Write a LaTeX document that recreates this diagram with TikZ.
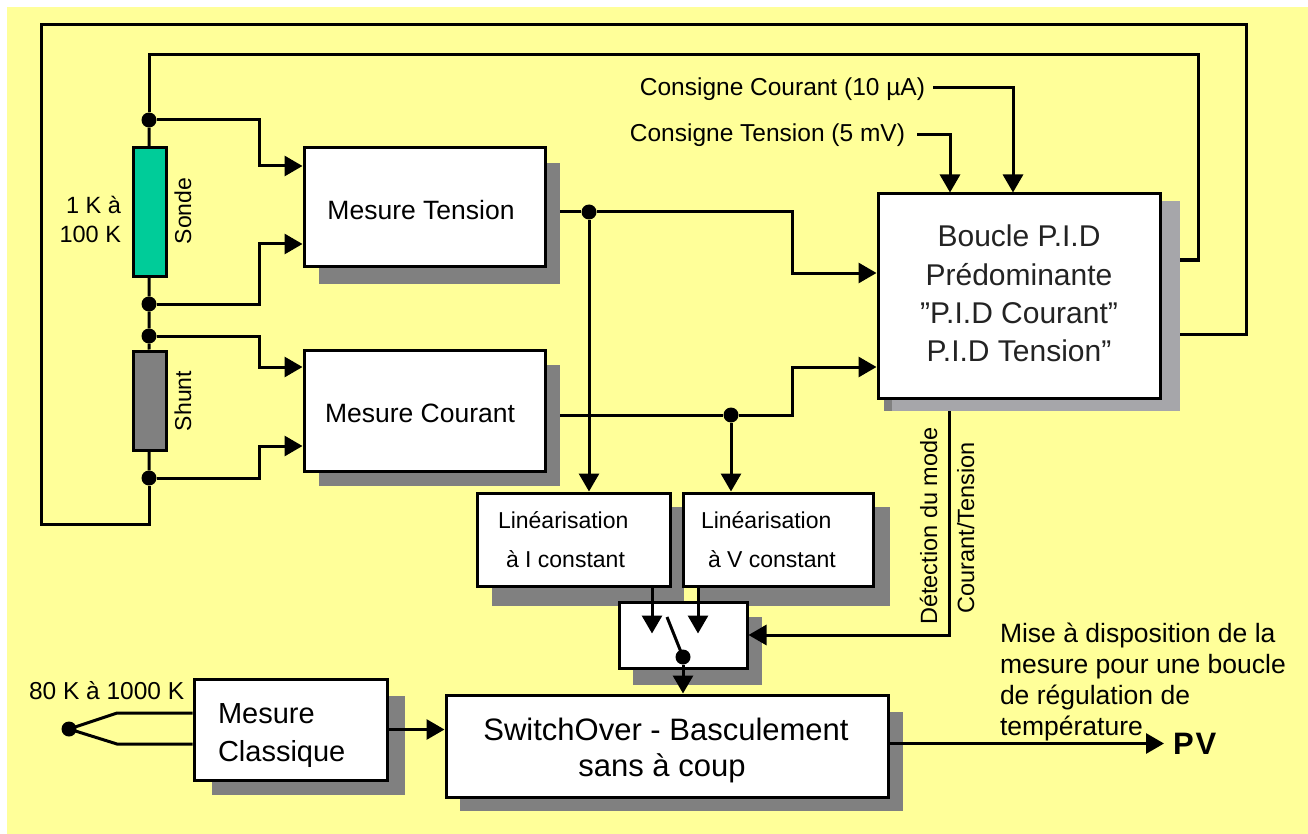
\documentclass[tikz,border=0pt]{standalone}
\usepackage{fontspec}
\setmainfont{Liberation Sans}
\usepackage{tikz}
\usetikzlibrary{arrows.meta}
\pgfdeclarelayer{bglayer}
\pgfdeclarelayer{shlayer}
\pgfdeclarelayer{wrlayer}
\pgfsetlayers{bglayer,shlayer,wrlayer,main}
\definecolor{bgyellow}{RGB}{255,255,153}
\definecolor{sondegreen}{RGB}{0,204,153}
\definecolor{shadowgray}{RGB}{128,128,128}
\definecolor{pidshadow}{RGB}{166,166,170}
\definecolor{pidtext}{RGB}{35,35,35}
\newcommand{\myfz}[1]{\fontsize{#1}{#1}\selectfont}
\tikzset{
  box/.style={rectangle, draw=black, line width=3pt, fill=white, inner sep=0pt},
  shbox/.style={rectangle, fill=shadowgray, inner sep=0pt, outer sep=0pt},
  wire/.style={line width=3pt},
  arr/.style={wire, -{Triangle[length=18pt,width=20pt]}},
  jdot/.style={circle, fill=black, inner sep=0pt, minimum size=15pt},
  txt/.style={inner sep=0pt, outer sep=0pt, text=black},
}
\begin{document}
\begin{tikzpicture}[x=1pt,y=-1pt]
\useasboundingbox (0,0) rectangle (1308,834);
\begin{pgfonlayer}{bglayer}
  \fill[bgyellow] (7,7) rectangle (1308,834);
\end{pgfonlayer}

% ---------- shadows ----------
\begin{pgfonlayer}{shlayer}
  \node[shbox, minimum width=241pt, minimum height=121pt] (mtsh) at (439.5,223.5) {};
  \node[shbox, minimum width=241pt, minimum height=121pt] (mcsh) at (439.5,425.5) {};
  \node[shbox, fill=pidshadow, minimum width=296pt, minimum height=210pt] (pidsh) at (1032,306) {};
  \node[shbox, minimum width=8pt, minimum height=13pt] (pidsh2) at (888,404.5) {};
  \node[shbox, minimum width=192pt, minimum height=99pt] (lish) at (588,556.5) {};
  \node[shbox, minimum width=192pt, minimum height=99pt] (lvsh) at (794,556.5) {};
  \node[shbox, minimum width=129pt, minimum height=68pt] (swsh) at (697.5,651) {};
  \node[shbox, minimum width=443pt, minimum height=99pt] (sosh) at (681.5,761.5) {};
  \node[shbox, minimum width=193pt, minimum height=99pt] (mclsh) at (308.5,745.5) {};
\end{pgfonlayer}

% ---------- boxes ----------
\node[box, minimum width=241pt, minimum height=118pt] (mt) at (424.5,207) {};
\node[box, minimum width=241pt, minimum height=121pt] (mc) at (424.5,410.5) {};
\node[box, minimum width=282pt, minimum height=204pt] (pid) at (1019,296) {};
\node[box, minimum width=193pt, minimum height=93pt] (li) at (573.5,539.5) {};
\node[box, minimum width=190pt, minimum height=93pt] (lv) at (778,539.5) {};
\node[box, minimum width=128pt, minimum height=66pt] (sw) at (683,635) {};
\node[box, minimum width=442pt, minimum height=102pt] (so) at (667,746) {};
\node[box, minimum width=193pt, minimum height=101pt] (mcl) at (290.5,729.5) {};
\node[box, fill=sondegreen, minimum width=33pt, minimum height=128pt] (sonde) at (149.5,212) {};
\node[box, fill=shadowgray, minimum width=33pt, minimum height=99pt] (shunt) at (149.5,400.5) {};

% ---------- dots ----------
\node[jdot] (d1) at (149,120) {};
\node[jdot] (d2) at (149,304) {};
\node[jdot] (d3) at (149,336) {};
\node[jdot] (d4) at (149,478) {};
\node[jdot] (j1) at (589,212) {};
\node[jdot] (j2) at (731,415) {};
\node[jdot] (swd) at (683,657) {};
\node[jdot] (tc) at (69,729) {};

% ---------- texts ----------
\node[txt, anchor=base east, font=\myfz{23.5}] (ka1) at (121,213.5) {1 K à};
\node[txt, anchor=base east, font=\myfz{23.5}] (ka2) at (121,242.8) {100 K};
\node[txt, anchor=base, rotate=90, font=\myfz{23}] (sondeT) at (191,211) {Sonde};
\node[txt, anchor=base, rotate=90, font=\myfz{23}] (shuntT) at (191,401) {Shunt};
\node[txt, anchor=base, font=\myfz{26.5}] (mtT) at (421,219.5) {Mesure Tension};
\node[txt, anchor=base, font=\myfz{26.5}] (mcT) at (420,422.7) {Mesure Courant};
\node[txt, anchor=base, text=pidtext, font=\myfz{30}] (pid1) at (1019,246.7) {Boucle P.I.D};
\node[txt, anchor=base, text=pidtext, font=\myfz{30}] (pid2) at (1019,285) {Prédominante};
\node[txt, anchor=base, text=pidtext, font=\myfz{30}] (pid3) at (1019,323.3) {”P.I.D Courant”};
\node[txt, anchor=base, text=pidtext, font=\myfz{30}] (pid4) at (1019,361.7) {P.I.D Tension”};
\node[txt, anchor=base east, font=\myfz{24.5}] (cc) at (925,96) {Consigne Courant (10 µA)};
\node[txt, anchor=base east, font=\myfz{24.5}] (ct) at (905,141.7) {Consigne Tension (5 mV)};
\node[txt, anchor=base west, font=\myfz{23}] (li1) at (498,528.3) {Linéarisation};
\node[txt, anchor=base west, font=\myfz{23}] (li2) at (506,567.3) {à I constant};
\node[txt, anchor=base west, font=\myfz{23}] (lv1) at (701,528.3) {Linéarisation};
\node[txt, anchor=base west, font=\myfz{23}] (lv2) at (708,567.3) {à V constant};
\node[txt, anchor=base, rotate=90, font=\myfz{23.5}] (det1) at (937,526) {Détection du mode};
\node[txt, anchor=base, rotate=90, font=\myfz{23.5}] (det2) at (974,528) {Courant/Tension};
\node[txt, anchor=base west, font=\myfz{26.5}] (mise1) at (1000,642.5) {Mise à disposition de la};
\node[txt, anchor=base west, font=\myfz{26.5}] (mise2) at (1000,673.5) {mesure pour une boucle};
\node[txt, anchor=base west, font=\myfz{26.5}] (mise3) at (1000,704.5) {de régulation de};
\node[txt, anchor=base west, font=\myfz{26.5}] (mise4) at (1000,735.5) {température};
\node[txt, anchor=west, font=\myfz{31}\bfseries] (pv) at (1173,743.5) {P\kern2pt V};
\node[txt, anchor=base west, font=\myfz{24.5}] (t80) at (29,699) {80 K à 1000 K};
\node[txt, anchor=base west, font=\myfz{29}] (mcl1) at (218,723.3) {Mesure};
\node[txt, anchor=base west, font=\myfz{29}] (mcl2) at (218,761) {Classique};
\node[txt, anchor=base, font=\myfz{31}] (so1) at (666,740) {SwitchOver - Basculement};
\node[txt, anchor=base, font=\myfz{31}] (so2) at (662,776.7) {sans à coup};

% ---------- wires (under boxes) ----------
\begin{pgfonlayer}{wrlayer}
  % outer loop
  \draw[wire] ([yshift=-28pt]pidsh.east) -- (1246,334) -- (1246,25) -- (41,25) -- (41,524) -- (d4 |- 0,524) -- (d4);
  % inner loop and probe wire
  \draw[wire] ([yshift=46pt]pidsh.east) -- (1198,260) -- (1198,55) -- (149,55) -- (d1);
  \draw[wire] (d1) -- (sonde) -- (d2) -- (d3) -- (shunt) -- (d4);
  % measurement inputs
  \draw[arr] (d1) -| (259,166) -- ([yshift=41pt]mt.west);
  \draw[arr] (d2) -| (259,244) -- ([yshift=-37pt]mt.west);
  \draw[arr] (d3) -| (259,367) -- ([yshift=43.5pt]mc.west);
  \draw[arr] (d4) -| (259,446) -- ([yshift=-35.5pt]mc.west);
  % measurement outputs
  \draw[wire] ([yshift=11.5pt]mtsh.east) -- (j1);
  \draw[arr] (j1) -- (792,212) |- ([yshift=23pt]pid.west);
  \draw[wire] ([yshift=10.5pt]mcsh.east) -- (j2);
  \draw[arr] (j2) -- (792,415) |- ([yshift=-71pt]pid.west);
  \draw[arr] (j1) -- (j1 |- li.north);
  \draw[arr] (j2) -- (j2 |- lv.north);
  % set points
  \draw[arr] ([xshift=8pt,yshift=2.5pt]cc.east) -| ([xshift=-6pt]pid.north);
  \draw[arr] ([xshift=12pt,yshift=1.3pt]ct.east) -| ([xshift=-69pt]pid.north);
  % mode detection
  \draw[arr] ([xshift=-83pt]pidsh.south) |- (sw.east);
  % classic measurement
  \draw[wire] (tc.center) -- (117,713) -- ([yshift=16.5pt]mcl.west);
  \draw[wire] (tc.center) -- (117,744) -- ([yshift=-14.5pt]mcl.west);
  \draw[arr] (mcl.east) -- (mcl.east -| so.west);
  % output
  \draw[arr] ([yshift=2.5pt]so.east) -- ([xshift=-9pt]pv.west);
\end{pgfonlayer}

% ---------- switch (over boxes) ----------
\draw[arr] ([xshift=78.5pt]li.south) -- ++(0,46);
\draw[arr] ([xshift=-80pt]lv.south) -- ++(0,46);
\draw[wire] (667,617) -- (swd.center);
\draw[arr] (swd) -- (swd |- so.north);
\end{tikzpicture}
\end{document}
